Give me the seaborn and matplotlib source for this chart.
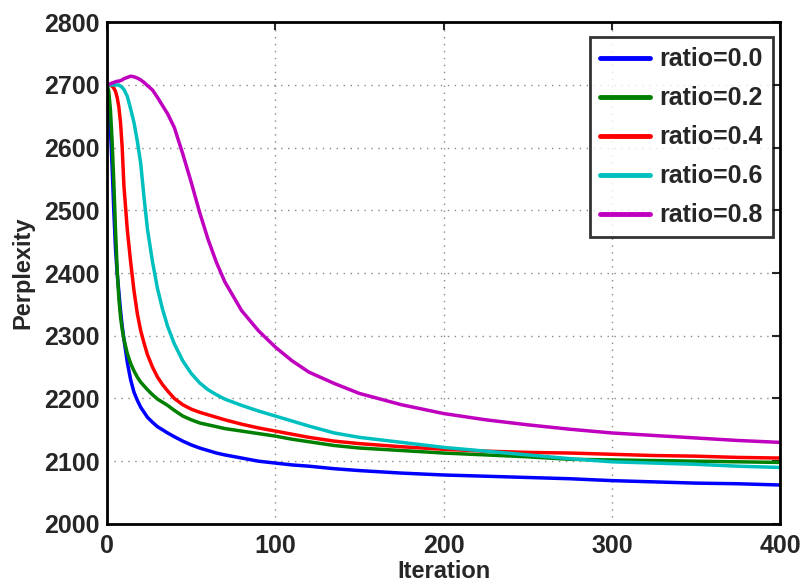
import matplotlib
matplotlib.use("Agg")
import matplotlib.pyplot as plt
import seaborn as sns
import pandas as pd

# Iteration sample points shared by all curves
iterations = [0, 1, 2, 3, 4, 5, 6, 7, 8, 9, 10, 12, 14, 16, 18, 20, 22, 24, 27, 30,
              33, 36, 40, 45, 50, 55, 60, 65, 70, 80, 90, 100, 110, 120, 135, 150,
              175, 200, 225, 250, 275, 300, 325, 350, 375, 400]

ratio_00 = [2700, 2680, 2630, 2570, 2500, 2440, 2400, 2370, 2340, 2315, 2295, 2258,
            2230, 2210, 2197, 2186, 2178, 2170, 2162, 2155, 2150, 2145, 2139, 2132,
            2126, 2121, 2117, 2113, 2110, 2105, 2100, 2097, 2094, 2092, 2088, 2085,
            2081, 2078, 2076, 2074, 2072, 2069, 2067, 2065, 2064, 2062]
ratio_02 = [2700, 2690, 2660, 2610, 2545, 2470, 2405, 2360, 2330, 2310, 2295, 2272,
            2256, 2244, 2234, 2226, 2220, 2214, 2206, 2199, 2194, 2189, 2181, 2172,
            2166, 2161, 2158, 2155, 2152, 2148, 2144, 2140, 2135, 2131, 2125, 2121,
            2117, 2113, 2110, 2107, 2103, 2102, 2101, 2100, 2099, 2098]
ratio_04 = [2700, 2700, 2700, 2698, 2695, 2690, 2680, 2665, 2640, 2600, 2540, 2470,
            2418, 2372, 2335, 2308, 2288, 2270, 2250, 2234, 2222, 2212, 2200, 2190,
            2183, 2178, 2174, 2170, 2166, 2159, 2153, 2148, 2143, 2138, 2132, 2128,
            2123, 2119, 2116, 2114, 2113, 2111, 2109, 2108, 2106, 2105]
ratio_06 = [2700, 2700, 2700, 2700, 2700, 2700, 2700, 2700, 2698, 2696, 2693, 2682,
            2662, 2640, 2610, 2575, 2520, 2470, 2418, 2375, 2342, 2315, 2287, 2260,
            2240, 2225, 2214, 2206, 2199, 2189, 2180, 2172, 2164, 2156, 2145, 2138,
            2130, 2122, 2116, 2110, 2104, 2099, 2097, 2095, 2092, 2090]
ratio_08 = [2700, 2701, 2702, 2703, 2704, 2705, 2706, 2706, 2707, 2708, 2710, 2712,
            2714, 2713, 2711, 2708, 2704, 2699, 2692, 2680, 2667, 2654, 2632, 2590,
            2545, 2497, 2454, 2417, 2386, 2340, 2308, 2282, 2260, 2242, 2224, 2208,
            2190, 2176, 2166, 2158, 2151, 2145, 2141, 2137, 2133, 2130]

labels = ["ratio=0.0", "ratio=0.2", "ratio=0.4", "ratio=0.6", "ratio=0.8"]
colors = ["#0000ff", "#008000", "#ff0000", "#00bfbf", "#bf00bf"]
series = [ratio_00, ratio_02, ratio_04, ratio_06, ratio_08]

x_ticks = [0, 100, 200, 300, 400]
y_ticks = [2000, 2100, 2200, 2300, 2400, 2500, 2600, 2700, 2800]

frames = [pd.DataFrame({"Iteration": iterations, "Perplexity": vals, "ratio": lab})
          for lab, vals in zip(labels, series)]
df = pd.concat(frames, ignore_index=True)

sns.set_style("white")
plt.rcParams["font.family"] = ["Liberation Sans", "DejaVu Sans"]
plt.rcParams["font.weight"] = "bold"

fig = plt.figure(figsize=(8.05, 5.86), dpi=100)
ax = fig.add_axes([0.133, 0.106, 0.836, 0.856])

sns.lineplot(data=df, x="Iteration", y="Perplexity", hue="ratio",
             palette=dict(zip(labels, colors)), linewidth=2.5, ax=ax,
             estimator=None, sort=False)

ax.set_xlim(0, 400)
ax.set_ylim(2000, 2800)
ax.set_xticks(x_ticks)
ax.set_yticks(y_ticks)
ax.tick_params(axis="both", direction="in", length=6, width=1.5,
               labelsize=18, top=True, right=True)
ax.tick_params(axis="x", pad=7)
ax.tick_params(axis="y", pad=5)
for lab in ax.get_xticklabels() + ax.get_yticklabels():
    lab.set_fontweight("bold")

ax.grid(True, linestyle=(0, (1, 4)), color="#888888", linewidth=1.0)
for sp in ax.spines.values():
    sp.set_visible(True)
    sp.set_color("black")
    sp.set_linewidth(2.0)

ax.set_xlabel("Iteration", fontsize=17, fontweight="bold", labelpad=2)
ax.set_ylabel("Perplexity", fontsize=17, fontweight="bold", labelpad=7)

leg = ax.legend(loc="upper right", bbox_to_anchor=(0.9896, 0.970),
                borderaxespad=0, fontsize=18, frameon=True, fancybox=False,
                handlelength=2.0, labelspacing=0.6, borderpad=0.4,
                handletextpad=0.4)
leg.get_frame().set_edgecolor("black")
leg.get_frame().set_linewidth(2.0)
for t in leg.get_texts():
    t.set_fontweight("bold")
for h in leg.get_lines():
    h.set_linewidth(3.5)

fig.savefig("out.png", dpi=100)
